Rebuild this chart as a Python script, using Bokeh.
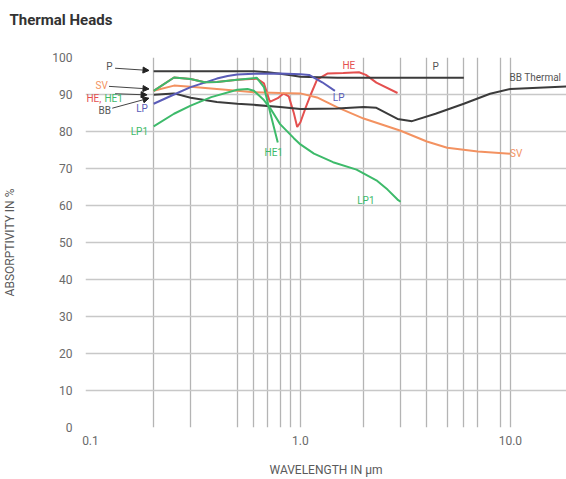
from bokeh.plotting import figure
from bokeh.models import Range1d, FixedTicker, Label, Arrow, NormalHead, Title
from bokeh.embed import file_html
from bokeh.resources import INLINE

# ---- data ----
wl_P = [0.2, 0.3, 0.4, 0.5, 0.6, 0.7, 0.8, 0.9, 1.0, 1.5, 2.0, 3.0, 4.0, 6.0]
val_P = [96.3, 96.3, 96.3, 96.3, 96.3, 96.0, 95.6, 95.2, 94.8, 94.5, 94.5, 94.5, 94.5, 94.5]

wl_LP = [0.2, 0.25, 0.3, 0.35, 0.4, 0.45, 0.5, 0.6, 0.8, 1.0, 1.1, 1.27, 1.46]
val_LP = [87.5, 90.0, 92.0, 93.2, 94.3, 95.0, 95.4, 95.6, 95.7, 95.5, 95.3, 93.3, 91.0]

wl_SV = [0.2, 0.25, 0.3, 0.4, 0.5, 0.6, 0.8, 1.0, 1.2, 1.5, 2.0, 3.0, 4.0, 5.0, 7.0, 10.0]
val_SV = [91.0, 92.4, 92.1, 91.5, 91.0, 90.6, 90.4, 90.3, 89.2, 86.5, 83.5, 80.2, 77.3, 75.6, 74.6, 74.0]

wl_BB = [0.2, 0.25, 0.3, 0.4, 0.5, 0.6, 0.8, 1.0, 1.5, 2.0, 2.3, 2.9, 3.4, 4.4, 6.0, 8.0, 10.0, 18.5]
val_BB = [89.9, 90.3, 89.1, 88.0, 87.5, 87.2, 86.6, 86.1, 86.2, 86.6, 86.4, 83.4, 82.8, 84.8, 87.5, 90.2, 91.5, 92.2]

wl_HE = [0.2, 0.25, 0.3, 0.35, 0.4, 0.5, 0.62, 0.67, 0.715, 0.78, 0.83, 0.88, 0.93, 0.965,
         1.0, 1.06, 1.12, 1.2, 1.35, 1.6, 1.9, 2.05, 2.3, 2.9]
val_HE = [91.0, 94.6, 94.2, 93.3, 93.4, 94.0, 94.3, 93.0, 88.0, 89.0, 90.3, 89.5, 85.0, 81.2,
          82.5, 86.5, 90.0, 94.0, 95.7, 95.8, 96.0, 95.3, 93.2, 90.4]

wl_HE1 = [0.2, 0.25, 0.3, 0.35, 0.4, 0.5, 0.62, 0.67, 0.72, 0.78]
val_HE1 = [91.0, 94.6, 94.2, 93.3, 93.4, 94.0, 94.5, 92.0, 84.8, 77.0]

wl_LP1 = [0.2, 0.25, 0.3, 0.376, 0.5, 0.56, 0.6, 0.67, 0.72, 0.8, 0.93, 1.0, 1.16, 1.43,
          1.85, 2.3, 2.6, 2.9, 3.0]
val_LP1 = [81.4, 84.8, 87.0, 89.3, 91.3, 91.5, 91.0, 88.5, 86.2, 82.0, 78.2, 76.5, 74.0, 71.7,
           69.7, 66.8, 64.3, 61.6, 61.0]

y_ticks = [0, 10, 20, 30, 40, 50, 60, 70, 80, 90, 100]
x_ticks = [0.1, 1, 10]
x_tick_labels = {0.1: "0.1", 1: "1.0", 10: "10.0"}
x_grid = [0.2, 0.3, 0.5, 0.6, 0.7, 0.8, 0.9, 1.0, 2, 3, 4, 5, 6, 7, 9, 10]

C_DARK = "#3b3b3b"
C_SV = "#f39261"
C_HE = "#e4504f"
C_GREEN = "#3dba6a"
C_LP = "#5a5cb8"
FONT = "Roboto"

p = figure(width=566, height=479, x_axis_type="log", title=None,
           x_range=Range1d(0.0947, 18.5), y_range=Range1d(0, 100),
           output_backend="svg", toolbar_location=None,
           min_border_left=85, min_border_right=0, min_border_top=57, min_border_bottom=52)
p.outline_line_color = None
p.background_fill_color = "white"

# spacer between frame and title, then the title itself (stacked outward)
p.add_layout(Title(text=" ", text_font_size="1px", standoff=22), "above")
p.add_layout(Title(text="Thermal Heads", align="left", offset=-76, standoff=8,
                   text_font=FONT, text_font_style="bold", text_font_size="15px",
                   text_color="#333333"), "above")

# axes
p.yaxis.ticker = FixedTicker(ticks=y_ticks)
p.xaxis.ticker = FixedTicker(ticks=x_ticks)
p.xaxis.major_label_overrides = x_tick_labels
for ax in (p.xaxis[0], p.yaxis[0]):
    ax.axis_line_color = None
    ax.major_tick_line_color = None
    ax.minor_tick_line_color = None
    ax.major_label_text_color = "#6a6a6a"
    ax.major_label_text_font = FONT
    ax.major_label_text_font_size = "12px"
    ax.axis_label_text_font = FONT
    ax.axis_label_text_font_style = "normal"
    ax.axis_label_text_font_size = "12px"
    ax.axis_label_text_color = "#5a5a5a"
p.yaxis.major_label_standoff = 7
p.yaxis.axis_label = "ABSORPTIVITY IN %"
p.yaxis.axis_label_standoff = 32
p.xaxis.major_label_standoff = 2
p.xaxis.axis_label = "WAVELENGTH IN µm"
p.xaxis.axis_label_standoff = 15

p.xgrid.ticker = FixedTicker(ticks=x_grid)
p.ygrid.ticker = FixedTicker(ticks=y_ticks)
p.xgrid.grid_line_color = "#b4b4b4"
p.ygrid.grid_line_color = "#c8c8c8"
p.xgrid.grid_line_width = 1.3
p.ygrid.grid_line_width = 1.6

# curves
p.line(wl_HE, val_HE, line_color=C_HE, line_width=2)
p.line(wl_SV, val_SV, line_color=C_SV, line_width=2)
p.line(wl_BB, val_BB, line_color=C_DARK, line_width=2)
p.line(wl_P, val_P, line_color=C_DARK, line_width=2)
p.line(wl_LP, val_LP, line_color=C_LP, line_width=2)
p.line(wl_LP1, val_LP1, line_color=C_GREEN, line_width=2)
p.line(wl_HE1, val_HE1, line_color=C_GREEN, line_width=2)

# arrows from left labels to curve starts
arrows = [((0.131, 97.1), (0.19, 96.5)),
          ((0.1225, 92.2), (0.19, 91.5)),
          ((0.131, 90.2), (0.186, 89.9)),
          ((0.127, 86.3), (0.19, 89.0))]
for (x0, y0), (x1, y1) in arrows:
    p.add_layout(Arrow(x_start=x0, y_start=y0, x_end=x1, y_end=y1,
                       line_color="#444444", line_width=1,
                       end=NormalHead(size=6, fill_color="#222222", line_color="#222222")))

def lab(x, y, t, color, align="center", size="10px"):
    p.add_layout(Label(x=x, y=y, text=t, text_color=color, text_font=FONT,
                       text_font_size=size, text_align=align, text_baseline="middle"))

lab(0.123, 97.6, "P", "#555555")
lab(0.113, 92.4, "SV", C_SV)
lab(0.0957, 88.9, "HE,", C_HE, align="left")
lab(0.1165, 88.9, "HE1", C_GREEN, align="left")
lab(0.117, 85.7, "BB", "#555555")
lab(0.176, 86.2, "LP", C_LP)
lab(0.188, 80.0, "LP1", C_GREEN, align="right")

lab(4.4, 97.6, "P", "#555555")
lab(1.70, 97.8, "HE", C_HE)
lab(1.52, 89.2, "LP", C_LP)
lab(9.9, 94.6, "BB Thermal", "#555555", align="left")
lab(9.95, 74.0, "SV", C_SV, align="left")
lab(0.746, 74.3, "HE1", C_GREEN)
lab(2.05, 61.4, "LP1", C_GREEN)

open("out.html", "w").write(file_html(p, INLINE))
